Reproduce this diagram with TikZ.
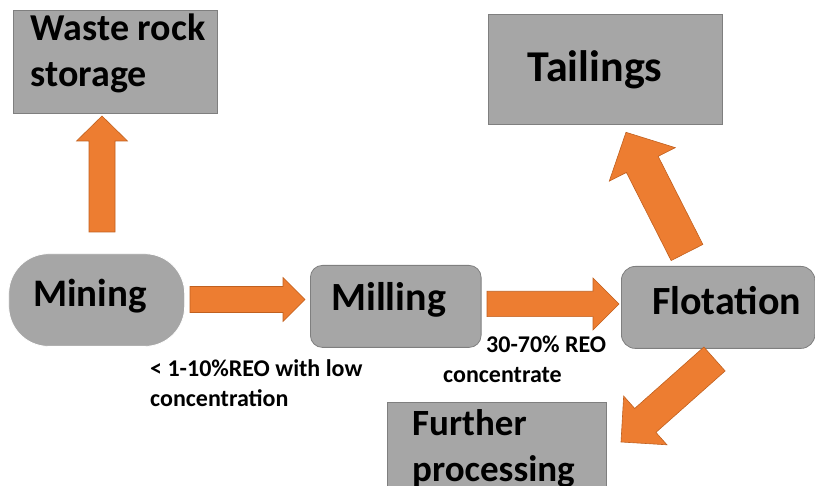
\documentclass[tikz,border=0pt]{standalone}
\usepackage{fontspec}
\setmainfont{Carlito}
\usetikzlibrary{calc}
\definecolor{boxgray}{HTML}{A6A6A6}
\definecolor{boxedge}{HTML}{7F7F7F}
\definecolor{arrfill}{HTML}{ED7D31}
\definecolor{arredge}{HTML}{C0601F}
\tikzset{
  box/.style={draw=boxedge, line width=0.8pt, fill=boxgray, inner sep=0pt, anchor=north west},
  pill/.style={fill=boxgray, draw=white, line width=0.8pt, inner sep=0pt, anchor=north west},
  big/.style={inner sep=0pt, anchor=base west, font=\fontsize{#1}{46}\selectfont\bfseries, align=left},
  big/.default=38,
  small/.style={inner sep=0pt, anchor=base west, font=\fontsize{24}{30}\selectfont\bfseries, align=left},
  barrow/.style={fill=arrfill, draw=arredge, line width=0.6pt, line join=miter}
}
\newcommand{\blockarrow}[5]{%
  \path ($(#2)!#5!(#1)$) coordinate (hb);
  \draw[barrow] ($(#1)!#3!90:(#2)$) -- ($(hb)!#3!90:(#2)$) -- ($(hb)!#4!90:(#2)$) -- (#2)
    -- ($(hb)!#4!-90:(#2)$) -- ($(hb)!#3!-90:(#2)$) -- ($(#1)!#3!-90:(#2)$) -- cycle;}
\begin{document}
\begin{tikzpicture}[x=1pt, y=-1pt]
\useasboundingbox (0,0) rectangle (815,486);
\clip (0,0) rectangle (815,486);
% boxes
\node[box, minimum width=203.4pt, minimum height=103pt] (waste) at (13.3,10) {};
\node[box, minimum width=234.3pt, minimum height=109.7pt] (tail) at (487.7,14) {};
\node[pill, rounded corners=40pt, minimum width=176pt, minimum height=92.7pt] (mining) at (8.3,253.3) {};
\node[box, rounded corners=12pt, minimum width=170.7pt, minimum height=82pt] (milling) at (310,265) {};
\node[box, rounded corners=14pt, minimum width=193.5pt, minimum height=82pt] (flot) at (621,266) {};
\node[box, minimum width=219pt, minimum height=110pt] (further) at (387,402) {};
% texts (base anchor = baseline of the last line)
\node[big=38] (twaste) at (30.5,86.7) {Waste rock\\storage};
\node[big=44] (ttail) at (527.5,81.7) {Tailings};
\node[big=39] (tmining) at (33,307) {Mining};
\node[big=40] (tmilling) at (331,311) {Milling};
\node[big=40] (tflot) at (652,315) {Flotation};
\node[big=37] (tfurther) at (412,482) {\setlength{\baselineskip}{47.5pt}Further\\processing};
\node[small] (l1) at (150,406.7) {< 1-10\%REO with low\\concentration};
\node[small] (l2a) at (486,352.3) {30-70\% REO};
\node[small] (l2b) at (443,382.7) {concentrate};
% arrow end points
\coordinate (a1s) at (102,232);   \coordinate (a1e) at (102,116);
\coordinate (a2s) at (190,299.5); \coordinate (a2e) at (305,299.5);
\coordinate (a3s) at (487,304);   \coordinate (a3e) at (619,304);
\coordinate (a4s) at (687,252.5); \coordinate (a4e) at (626,132.3);
\coordinate (a5s) at (714.5,359); \coordinate (a5e) at (621,442);
\blockarrow{a1s}{a1e}{13pt}{25.5pt}{25pt}
\blockarrow{a2s}{a2e}{13pt}{22pt}{22pt}
\blockarrow{a3s}{a3e}{12.7pt}{26pt}{26pt}
\blockarrow{a4s}{a4e}{17.8pt}{37pt}{36pt}
\blockarrow{a5s}{a5e}{16pt}{32.6pt}{32.5pt}
\end{tikzpicture}
\end{document}
